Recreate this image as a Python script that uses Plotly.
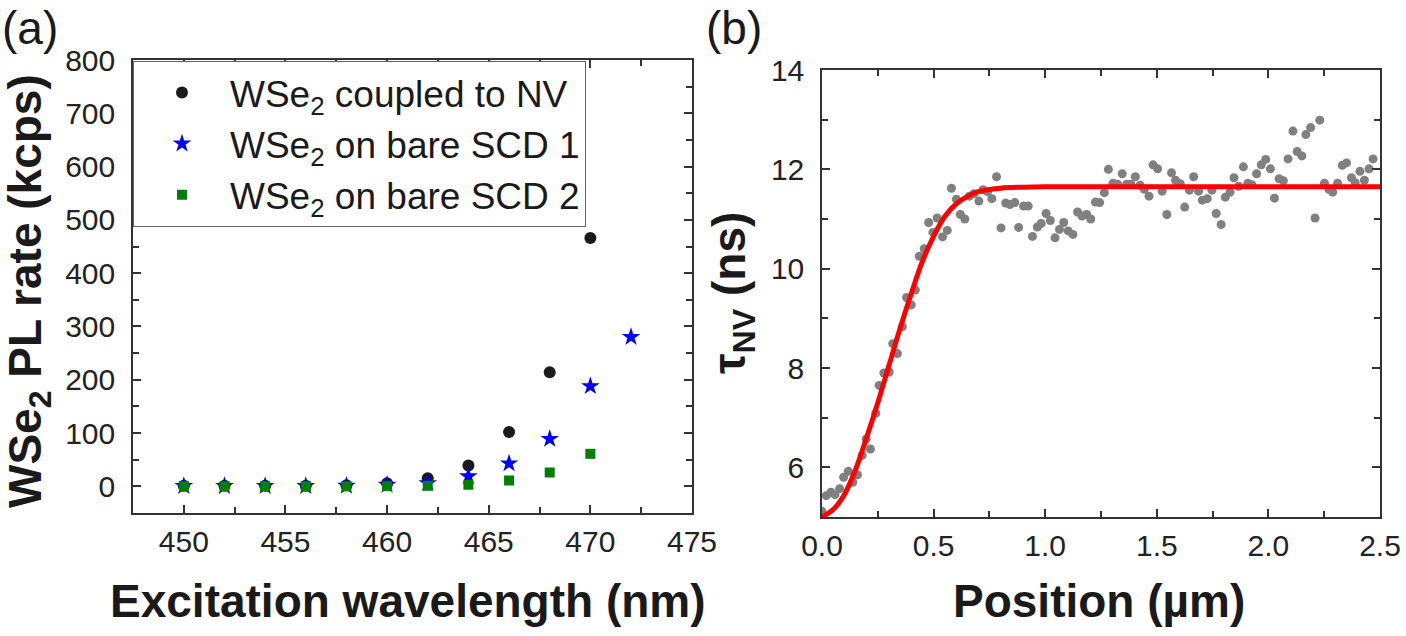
import plotly.graph_objects as go

# ---------------- data: panel (a) ----------------
wavelength = [450, 452, 454, 456, 458, 460, 462, 464, 466, 468, 470]
pl_coupled_nv = [1, 1, 1, 1, 2, 6, 15, 39, 102, 214, 466]
wavelength_scd1 = [450, 452, 454, 456, 458, 460, 462, 464, 466, 468, 470, 472]
pl_bare_scd1 = [0.5, 0.5, 0.5, 0.5, 1, 3, 6, 19, 43, 89, 188, 280]
pl_bare_scd2 = [0, 0, 0, 0, 0, 0.5, 1, 3, 11, 26, 61]

# ---------------- data: panel (b) ----------------
position = [0.0, 0.019, 0.04, 0.058, 0.079, 0.097, 0.118, 0.138, 0.159, 0.18,
            0.198, 0.217, 0.241, 0.256, 0.277, 0.301, 0.317, 0.338, 0.36, 0.379,
            0.4, 0.418, 0.436, 0.458, 0.478, 0.497, 0.516, 0.54, 0.561, 0.58,
            0.602, 0.62, 0.64, 0.66, 0.681, 0.703, 0.722, 0.742, 0.761, 0.782,
            0.802, 0.823, 0.842, 0.864, 0.881, 0.903, 0.924, 0.943, 0.965, 0.982,
            1.004, 1.023, 1.044, 1.064, 1.083, 1.103, 1.124, 1.145, 1.165, 1.186,
            1.204, 1.225, 1.244, 1.265, 1.283, 1.304, 1.324, 1.345, 1.365, 1.384,
            1.404, 1.425, 1.444, 1.465, 1.483, 1.504, 1.524, 1.545, 1.566, 1.584,
            1.605, 1.625, 1.646, 1.665, 1.687, 1.704, 1.726, 1.747, 1.766, 1.788,
            1.807, 1.828, 1.846, 1.867, 1.888, 1.908, 1.926, 1.947, 1.968, 1.988,
            2.009, 2.027, 2.048, 2.067, 2.088, 2.11, 2.129, 2.15, 2.168, 2.189,
            2.209, 2.23, 2.251, 2.271, 2.288, 2.31, 2.331, 2.35, 2.372, 2.389,
            2.41, 2.43, 2.451, 2.469]
tau_nv = [5.11, 5.43, 5.5, 5.45, 5.57, 5.8, 5.92, 5.70, 5.85, 6.24,
          6.57, 6.37, 7.09, 7.65, 7.9, 7.92, 8.49, 8.29, 8.83, 9.42,
          9.27, 9.57, 10.25, 10.4, 10.93, 10.73, 11.02, 10.64, 10.77, 11.62,
          11.40, 11.09, 11.0, 11.46, 11.51, 11.36, 11.59, 11.55, 11.41, 11.85,
          10.82, 11.32, 11.29, 11.33, 10.83, 11.26, 11.26, 10.65, 10.84, 10.91,
          11.11, 10.97, 10.62, 10.79, 10.93, 10.76, 10.69, 11.14, 11.06, 11.09,
          11.0, 11.34, 11.33, 11.53, 12.0, 11.72, 11.70, 11.91, 11.70, 11.70,
          11.85, 11.68, 11.60, 11.46, 12.09, 12.01, 11.56, 11.09, 11.93, 11.78,
          11.71, 11.24, 11.58, 11.85, 11.56, 11.38, 11.41, 11.58, 11.11, 10.89,
          11.44, 11.54, 11.83, 11.66, 12.05, 11.72, 11.69, 11.91, 12.09, 12.20,
          12.01, 11.42, 11.81, 11.77, 12.21, 12.77, 12.36, 12.27, 12.70, 12.84,
          11.02, 12.99, 11.72, 11.60, 11.54, 11.72, 12.08, 12.13, 11.83, 11.73,
          11.96, 11.78, 12.01, 12.21]
fit_position = [0, 0.05, 0.1, 0.15, 0.2, 0.25, 0.3, 0.35, 0.4, 0.45, 0.5, 0.55,
                0.6, 0.65, 0.7, 0.8, 0.9, 1.0, 1.5, 2.0, 2.5]
fit_tau = [5.0, 5.15, 5.45, 5.95, 6.6, 7.3, 8.05, 8.8, 9.5, 10.15, 10.65, 11.05,
           11.3, 11.45, 11.55, 11.62, 11.64, 11.65, 11.65, 11.65, 11.65]

# ---------------- layout helpers ----------------
W, H = 1406, 636
def px_x(p):
    return p / W
def px_y(p):
    return 1 - p / H

FONT = "Liberation Sans, Arial, sans-serif"
TICK_FONT = dict(family=FONT, size=30, color="#222222")
TITLE_FONT = dict(family=FONT, size=46, color="#1a1a1a")
AX_COLOR = "#333333"

fig = go.Figure()

fig.add_trace(go.Scatter(
    x=wavelength, y=pl_coupled_nv, mode="markers", name="WSe<sub>2</sub> coupled to NV",
    marker=dict(symbol="circle", size=12, color="#1a1a1a"),
    xaxis="x", yaxis="y", legendgroup="a"))
fig.add_trace(go.Scatter(
    x=wavelength_scd1, y=pl_bare_scd1, mode="markers", name="WSe<sub>2</sub> on bare SCD 1",
    marker=dict(symbol="star", size=14, color="#0000ff"),
    xaxis="x", yaxis="y", legendgroup="b"))
fig.add_trace(go.Scatter(
    x=wavelength, y=pl_bare_scd2, mode="markers", name="WSe<sub>2</sub> on bare SCD 2",
    marker=dict(symbol="square", size=10, color="#008000"),
    xaxis="x", yaxis="y", legendgroup="c"))

fig.add_trace(go.Scatter(
    x=position, y=tau_nv, mode="markers", showlegend=False,
    marker=dict(symbol="circle", size=9, color="#808080"),
    xaxis="x2", yaxis="y2"))
fig.add_trace(go.Scatter(
    x=fit_position, y=fit_tau, mode="lines", showlegend=False,
    line=dict(color="#ff0000", width=5, shape="spline"),
    xaxis="x2", yaxis="y2"))

axis_common = dict(
    showline=True, linecolor=AX_COLOR, linewidth=1.5, mirror="allticks",
    ticks="inside", ticklen=8, tickwidth=1.5, tickcolor=AX_COLOR,
    showgrid=False, zeroline=False, tickfont=TICK_FONT, automargin=False,
)
minor_common = dict(ticks="inside", ticklen=6, tickwidth=1.5, tickcolor=AX_COLOR)

fig.update_layout(
    width=W, height=H, margin=dict(l=0, r=0, t=0, b=0, autoexpand=False),
    paper_bgcolor="white", plot_bgcolor="white",
    font=dict(family=FONT),
    xaxis=dict(domain=[px_x(133), px_x(692)], range=[447.5, 475], dtick=5, tick0=450,
               minor=dict(dtick=2.5, **minor_common), ticklabelstandoff=1,
               anchor="y", **axis_common),
    yaxis=dict(domain=[px_y(513), px_y(60)], range=[-50, 800], dtick=100, tick0=0,
               minor=dict(dtick=50, **minor_common), ticklabelstandoff=10,
               anchor="x", **axis_common),
    xaxis2=dict(domain=[px_x(822), px_x(1380)], range=[0, 2.5], dtick=0.5, tick0=0,
                tickformat=".1f", minor=dict(dtick=0.25, **minor_common), ticklabelstandoff=1,
                anchor="y2", **axis_common),
    yaxis2=dict(domain=[px_y(517), px_y(70)], range=[5, 14], dtick=2, tick0=0,
                minor=dict(dtick=1, **minor_common), ticklabelstandoff=10,
                anchor="x2", **axis_common),
    showlegend=True,
    legend=dict(x=px_x(133), y=px_y(61), xanchor="left", yanchor="top",
                bgcolor="white", bordercolor="#666666", borderwidth=1,
                font=dict(family=FONT, size=37, color="#1a1a1a"),
                itemwidth=86, tracegroupgap=1, traceorder="normal"),
)

annotations = [
    dict(text="(a)", x=px_x(0), y=px_y(0), xanchor="left", yanchor="top",
         font=dict(family=FONT, size=46, color="#1a1a1a")),
    dict(text="(b)", x=px_x(704), y=px_y(0), xanchor="left", yanchor="top",
         font=dict(family=FONT, size=46, color="#1a1a1a")),
    dict(text="<b>Excitation wavelength (nm)</b>", x=px_x(408), y=px_y(601),
         xanchor="center", yanchor="middle", font=TITLE_FONT),
    dict(text="<b>Position (µm)</b>", x=px_x(1099), y=px_y(601),
         xanchor="center", yanchor="middle", font=TITLE_FONT),
    dict(text="<b>WSe<sub>2</sub> PL rate (kcps)</b>", x=px_x(29), y=px_y(291),
         xanchor="center", yanchor="middle", textangle=-90, font=TITLE_FONT),
    dict(text="<b>τ<sub>NV</sub> (ns)</b>", x=px_x(732), y=px_y(293),
         xanchor="center", yanchor="middle", textangle=-90, font=TITLE_FONT),
]
for a in annotations:
    a.update(xref="paper", yref="paper", showarrow=False)
fig.update_layout(annotations=annotations)

fig.write_html("out.html")
